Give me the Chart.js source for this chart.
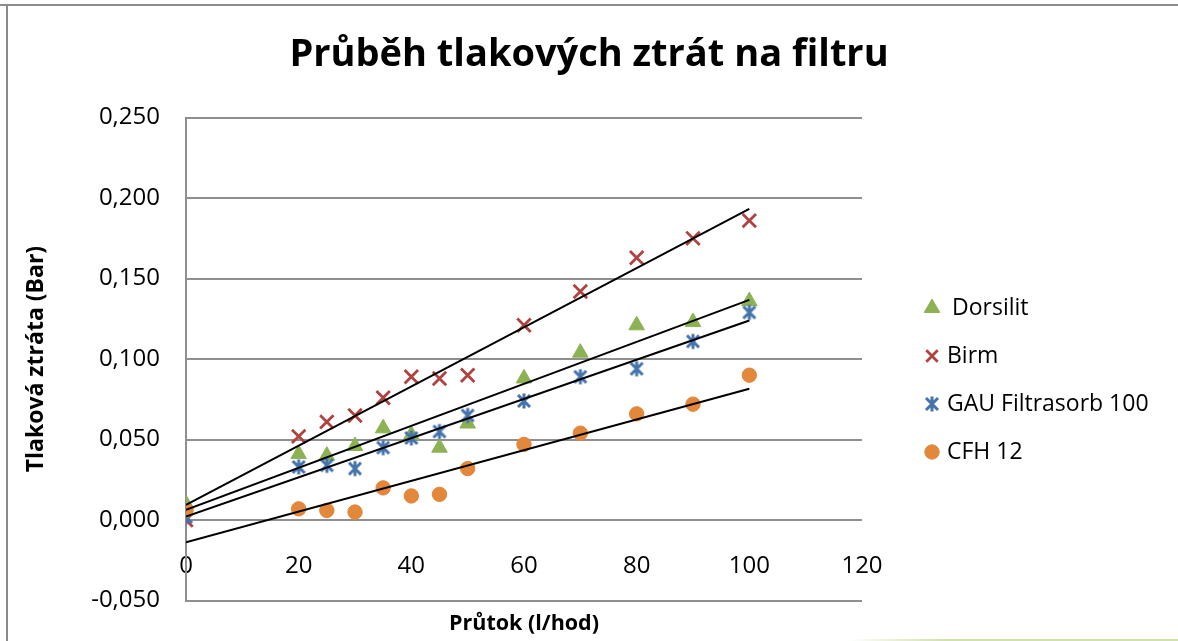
<!DOCTYPE html>
<html lang="cs">
<head>
<meta charset="utf-8">
<title>Průběh tlakových ztrát na filtru</title>
<script src="https://cdn.jsdelivr.net/npm/chart.js@4.4.0/dist/chart.umd.min.js"></script>
<style>
  html, body { margin: 0; padding: 0; background: #fff; }
  #chart { display: block; }
</style>
</head>
<body>
<canvas id="chart" width="1178" height="641"></canvas>
<script>
// hodnoty
const prutok = [0, 20, 25, 30, 35, 40, 45, 50, 60, 70, 80, 90, 100];
const dorsilit = [0.010, 0.041, 0.040, 0.046, 0.057, 0.053, 0.045, 0.060, 0.088, 0.104, 0.121, 0.123, 0.136];
const birm = [0.000, 0.052, 0.061, 0.065, 0.076, 0.089, 0.088, 0.090, 0.121, 0.142, 0.163, 0.175, 0.186];
const gau = [0.002, 0.033, 0.034, 0.032, 0.045, 0.051, 0.055, 0.065, 0.074, 0.089, 0.094, 0.111, 0.129];
const cfh = [0.006, 0.007, 0.006, 0.005, 0.020, 0.015, 0.016, 0.032, 0.047, 0.054, 0.066, 0.072, 0.090];

const seriesNames = ['Dorsilit', 'Birm', 'GAU Filtrasorb 100', 'CFH 12'];
const xTicks = [0, 20, 40, 60, 80, 100, 120];
const yTicks = [-0.05, 0, 0.05, 0.1, 0.15, 0.2, 0.25];

const FONT = '"Open Sans", "Liberation Sans", sans-serif';

// lineární trend (nejmenší čtverce), jako spojnice trendu v Excelu
function trend(xs, ys) {
    const n = xs.length;
    const mx = xs.reduce((a, b) => a + b, 0) / n;
    const my = ys.reduce((a, b) => a + b, 0) / n;
    let sxy = 0, sxx = 0;
    xs.forEach((x, i) => {
        sxy += (x - mx) * (ys[i] - my);
        sxx += (x - mx) * (x - mx);
    });
    const k = sxy / sxx;
    const q = my - k * mx;
    return [{ x: xs[0], y: q + k * xs[0] }, { x: xs[n - 1], y: q + k * xs[n - 1] }];
}

function points(ys) {
    return prutok.map((x, i) => ({ x: x, y: ys[i] }));
}

// hvězdička (x + svislá čára) jako v Excelu
function makeStar(color) {
    const c = document.createElement('canvas');
    c.width = 18;
    c.height = 18;
    const g = c.getContext('2d');
    g.strokeStyle = color;
    g.lineWidth = 3;
    g.beginPath();
    g.moveTo(3, 3); g.lineTo(15, 15);
    g.moveTo(15, 3); g.lineTo(3, 15);
    g.moveTo(9, 1.5); g.lineTo(9, 16.5);
    g.stroke();
    return c;
}

const colors = ['#8db253', '#b0433f', '#4473ad', '#e3873a'];
const markers = [
    { pointStyle: 'triangle', radius: 9, borderWidth: 1 },
    { pointStyle: 'crossRot', radius: 9.5, borderWidth: 2.8 },
    { pointStyle: makeStar(colors[2]), radius: 9, borderWidth: 1 },
    { pointStyle: 'circle', radius: 7.2, borderWidth: 1 }
];
const values = [dorsilit, birm, gau, cfh];

const pointSets = values.map((ys, i) => ({
    label: seriesNames[i],
    data: points(ys),
    pointStyle: markers[i].pointStyle,
    pointRadius: markers[i].radius,
    pointBorderWidth: markers[i].borderWidth,
    pointBackgroundColor: colors[i],
    pointBorderColor: colors[i],
    showLine: false,
    order: 4 - i
}));

const trendSets = values.map((ys, i) => ({
    label: seriesNames[i] + ' trend',
    data: trend(prutok, ys),
    showLine: true,
    borderColor: '#000',
    borderWidth: 2,
    pointRadius: 0,
    order: 0
}));

const frame = {
    id: 'frame',
    beforeDraw(chart) {
        const ctx = chart.ctx;
        ctx.save();
        ctx.fillStyle = '#fff';
        ctx.fillRect(0, 0, chart.width, chart.height);
        ctx.fillStyle = '#8c8c8c';
        ctx.fillRect(0, 4, chart.width, 2);
        ctx.fillRect(6, 4, 2, chart.height - 4);
        const gr = ctx.createLinearGradient(848, 0, chart.width, 0);
        gr.addColorStop(0, 'rgba(200,222,160,0)');
        gr.addColorStop(0.3, '#cfe2a9');
        gr.addColorStop(1, '#cfe2a9');
        ctx.fillStyle = gr;
        ctx.fillRect(848, chart.height - 2, chart.width - 848, 2);
        ctx.restore();
    }
};

const sideLegend = {
    id: 'sideLegend',
    afterDraw(chart) {
        const ctx = chart.ctx;
        ctx.save();
        ctx.font = '23px ' + FONT;
        ctx.textBaseline = 'middle';
        pointSets.forEach((ds, i) => {
            const y = 308 + i * 48;
            ctx.fillStyle = colors[i];
            ctx.strokeStyle = colors[i];
            ctx.lineWidth = ds.pointBorderWidth;
            Chart.helpers.drawPoint(ctx, {
                pointStyle: ds.pointStyle,
                radius: i === 1 ? 8 : ds.pointRadius,
                borderWidth: ds.pointBorderWidth,
                rotation: 0
            }, 932, y);
            ctx.fillStyle = '#000';
            ctx.fillText(ds.label, i === 0 ? 952 : 947, y);
        });
        ctx.restore();
    }
};

new Chart(document.getElementById('chart'), {
    type: 'scatter',
    data: { datasets: pointSets.concat(trendSets) },
    options: {
        responsive: false,
        animation: false,
        layout: { padding: 0 },
        plugins: {
            legend: { display: false },
            tooltip: { enabled: false },
            title: {
                display: true,
                text: 'Průběh tlakových ztrát na filtru',
                color: '#000',
                font: { family: FONT, size: 38, weight: 'bold' },
                padding: { top: 32, bottom: 40 }
            },
            subtitle: {
                display: true,
                position: 'bottom',
                fullSize: false,
                text: 'Průtok (l/hod)',
                color: '#000',
                font: { family: FONT, size: 21.5, weight: 'bold' },
                padding: { top: 10, bottom: 1.5 }
            }
        },
        scales: {
            x: {
                type: 'linear',
                position: { y: 0 },
                min: 0,
                max: 120,
                afterBuildTicks: (scale) => { scale.ticks = xTicks.map(v => ({ value: v })); },
                grid: { display: false, drawTicks: false },
                border: { display: false },
                ticks: {
                    color: '#000',
                    font: { family: FONT, size: 24 },
                    padding: 32,
                    maxRotation: 0
                }
            },
            y: {
                position: 'left',
                min: -0.05,
                max: 0.25,
                afterBuildTicks: (scale) => { scale.ticks = yTicks.map(v => ({ value: v })); },
                afterFit: (scale) => { scale.width = 186; },
                grid: { color: '#8f8f8f', lineWidth: 2, drawTicks: false },
                border: { display: true, color: '#8f8f8f', width: 2 },
                ticks: {
                    color: '#000',
                    font: { family: FONT, size: 24 },
                    padding: 26,
                    callback: (v) => v.toFixed(3).replace('.', ',')
                },
                title: {
                    display: true,
                    text: 'Tlaková ztráta (Bar)',
                    color: '#000',
                    font: { family: FONT, size: 23, weight: 'bold' },
                    padding: { top: 23, bottom: 0 }
                }
            },
            // prázdné místo vpravo pro legendu
            legendSpace: {
                type: 'linear',
                position: 'right',
                display: true,
                afterFit: (scale) => { scale.width = 316; },
                grid: { display: false, drawTicks: false },
                border: { display: false },
                ticks: { display: false }
            }
        }
    },
    plugins: [frame, sideLegend]
});
</script>
</body>
</html>
